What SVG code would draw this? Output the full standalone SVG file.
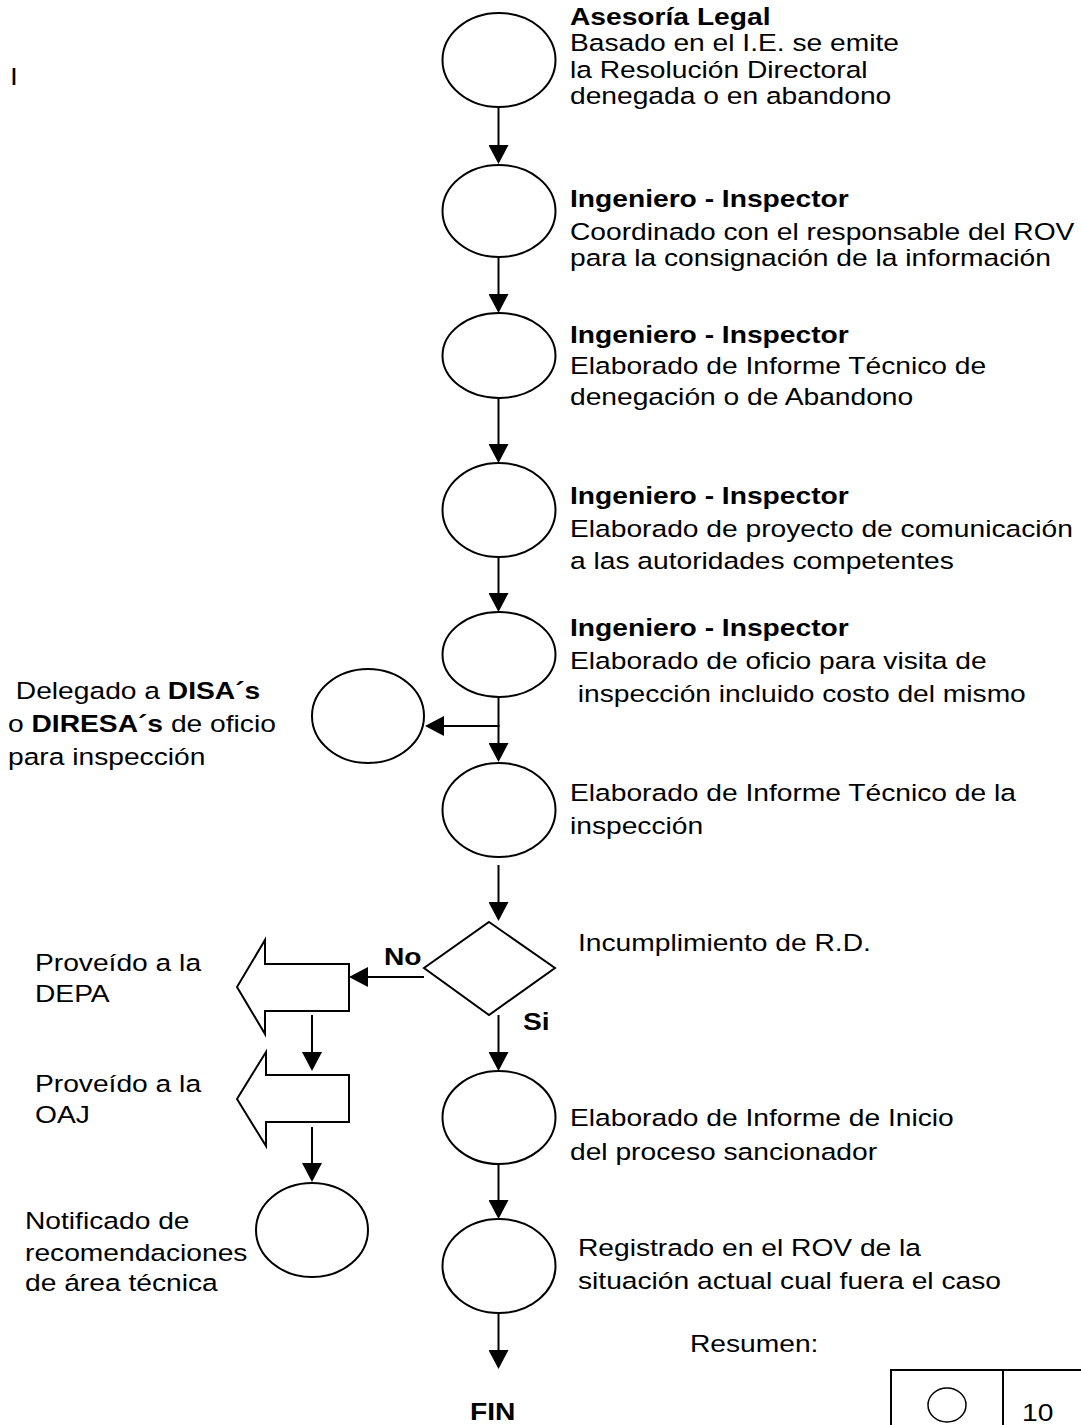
<svg xmlns="http://www.w3.org/2000/svg" width="1081" height="1425" viewBox="0 0 1081 1425">
<style>
.s{fill:#fff;stroke:#000;stroke-width:2}
.c{stroke:#000;stroke-width:2;fill:none}
text{font-family:"Liberation Sans",Arial,sans-serif;font-size:23.5px;fill:#000}
.b{font-weight:bold}
</style>
<defs>
<marker id="ah" markerUnits="userSpaceOnUse" viewBox="0 0 19 20" markerWidth="19" markerHeight="20" refX="0" refY="10" orient="auto">
<path d="M0,0 L19,10 L0,20 z" fill="#000"/>
</marker>
</defs>
<rect width="1081" height="1425" fill="#fff"/>
<text transform="matrix(1.2 0 0 1 10 85)">I</text>
<g id="connectors">
<line class="c" x1="498.5" y1="107" x2="498.5" y2="145" marker-end="url(#ah)"/>
<line class="c" x1="498.5" y1="257" x2="498.5" y2="294" marker-end="url(#ah)"/>
<line class="c" x1="498.5" y1="398" x2="498.5" y2="444" marker-end="url(#ah)"/>
<line class="c" x1="498.5" y1="557" x2="498.5" y2="593" marker-end="url(#ah)"/>
<line class="c" x1="498.5" y1="697" x2="498.5" y2="743" marker-end="url(#ah)"/>
<line class="c" x1="499.5" y1="726" x2="444" y2="726" marker-end="url(#ah)"/>
<line class="c" x1="498.5" y1="865" x2="498.5" y2="902" marker-end="url(#ah)"/>
<line class="c" x1="424" y1="977" x2="368" y2="977" marker-end="url(#ah)"/>
<line class="c" x1="498.5" y1="1015" x2="498.5" y2="1052" marker-end="url(#ah)"/>
<line class="c" x1="498.5" y1="1164" x2="498.5" y2="1200" marker-end="url(#ah)"/>
<line class="c" x1="498.5" y1="1313" x2="498.5" y2="1350" marker-end="url(#ah)"/>
<line class="c" x1="312" y1="1015" x2="312" y2="1052" marker-end="url(#ah)"/>
<line class="c" x1="312" y1="1127" x2="312" y2="1163" marker-end="url(#ah)"/>
</g>
<g id="n1"><ellipse class="s" cx="499" cy="60" rx="56.5" ry="47"/>
<text transform="matrix(1.2 0 0 1 570 25)" class="b">Asesoría Legal</text>
<text transform="matrix(1.2 0 0 1 570 51)">Basado en el I.E. se emite</text>
<text transform="matrix(1.2 0 0 1 570 78)">la Resolución Directoral</text>
<text transform="matrix(1.2 0 0 1 570 104)">denegada o en abandono</text></g>
<g id="n2"><ellipse class="s" cx="499" cy="211" rx="56.5" ry="46"/>
<text transform="matrix(1.2 0 0 1 570 207)" class="b">Ingeniero - Inspector</text>
<text transform="matrix(1.2 0 0 1 570 240)">Coordinado con el responsable del ROV</text>
<text transform="matrix(1.2 0 0 1 570 266)">para la consignación de la información</text></g>
<g id="n3"><ellipse class="s" cx="499" cy="355.5" rx="56.5" ry="42.5"/>
<text transform="matrix(1.2 0 0 1 570 343)" class="b">Ingeniero - Inspector</text>
<text transform="matrix(1.2 0 0 1 570 374)">Elaborado de Informe Técnico de</text>
<text transform="matrix(1.2 0 0 1 570 405)">denegación o de Abandono</text></g>
<g id="n4"><ellipse class="s" cx="499" cy="510" rx="56.5" ry="47"/>
<text transform="matrix(1.2 0 0 1 570 504)" class="b">Ingeniero - Inspector</text>
<text transform="matrix(1.2 0 0 1 570 537)">Elaborado de proyecto de comunicación</text>
<text transform="matrix(1.2 0 0 1 570 569)">a las autoridades competentes</text></g>
<g id="n5"><ellipse class="s" cx="499" cy="654.5" rx="56.5" ry="42.5"/>
<text transform="matrix(1.2 0 0 1 570 636)" class="b">Ingeniero - Inspector</text>
<text transform="matrix(1.2 0 0 1 570 669)">Elaborado de oficio para visita de</text>
<text transform="matrix(1.2 0 0 1 570 702)" xml:space="preserve"> inspección incluido costo del mismo</text></g>
<g id="n5b"><ellipse class="s" cx="368" cy="716" rx="56" ry="47"/>
<text transform="matrix(1.2 0 0 1 8 699)" xml:space="preserve"> Delegado a <tspan class="b">DISA´s</tspan></text>
<text transform="matrix(1.2 0 0 1 8 732)">o <tspan class="b">DIRESA´s</tspan> de oficio</text>
<text transform="matrix(1.2 0 0 1 8 765)">para inspección</text></g>
<g id="n6"><ellipse class="s" cx="499" cy="810" rx="56.5" ry="47"/>
<text transform="matrix(1.2 0 0 1 570 801)">Elaborado de Informe Técnico de la</text>
<text transform="matrix(1.2 0 0 1 570 834)">inspección</text></g>
<g id="d1"><polygon class="s" points="489,922 555,968 489,1015 424,968"/>
<text transform="matrix(1.2 0 0 1 578 951)">Incumplimiento de R.D.</text>
<text transform="matrix(1.2 0 0 1 384 965)" class="b">No</text>
<text transform="matrix(1.2 0 0 1 523 1030)" class="b">Si</text></g>
<g id="a1"><polygon class="s" points="237,987 265,940 265,964 349,964 349,1011 265,1011 265,1034"/>
<text transform="matrix(1.2 0 0 1 35 971)">Proveído a la</text>
<text transform="matrix(1.2 0 0 1 35 1002)">DEPA</text></g>
<g id="a2"><polygon class="s" points="237,1099 266,1052 266,1075 349,1075 349,1122 266,1122 266,1146"/>
<text transform="matrix(1.2 0 0 1 35 1092)">Proveído a la</text>
<text transform="matrix(1.2 0 0 1 35 1123)">OAJ</text></g>
<g id="n9"><ellipse class="s" cx="312" cy="1230" rx="56" ry="47"/>
<text transform="matrix(1.2 0 0 1 25 1229)">Notificado de</text>
<text transform="matrix(1.2 0 0 1 25 1261)">recomendaciones</text>
<text transform="matrix(1.2 0 0 1 25 1291)">de área técnica</text></g>
<g id="n7"><ellipse class="s" cx="499" cy="1117.5" rx="56.5" ry="46.5"/>
<text transform="matrix(1.2 0 0 1 570 1126)">Elaborado de Informe de Inicio</text>
<text transform="matrix(1.2 0 0 1 570 1160)">del proceso sancionador</text></g>
<g id="n8"><ellipse class="s" cx="499" cy="1266" rx="56.5" ry="47"/>
<text transform="matrix(1.2 0 0 1 578 1256)">Registrado en el ROV de la</text>
<text transform="matrix(1.2 0 0 1 578 1289)">situación actual cual fuera el caso</text></g>
<g id="fin"><text transform="matrix(1.2 0 0 1 470 1420)" class="b">FIN</text></g>
<g id="resumen">
<text transform="matrix(1.2 0 0 1 690 1352)">Resumen:</text>
<line class="c" x1="891" y1="1370" x2="1081" y2="1370"/>
<line class="c" x1="891" y1="1369" x2="891" y2="1425"/>
<line class="c" x1="1003" y1="1369" x2="1003" y2="1425"/>
<ellipse cx="947" cy="1405" rx="19" ry="17" fill="none" stroke="#000" stroke-width="1.5"/>
<text transform="matrix(1.2 0 0 1 1022 1421)">10</text>
</g>
</svg>
